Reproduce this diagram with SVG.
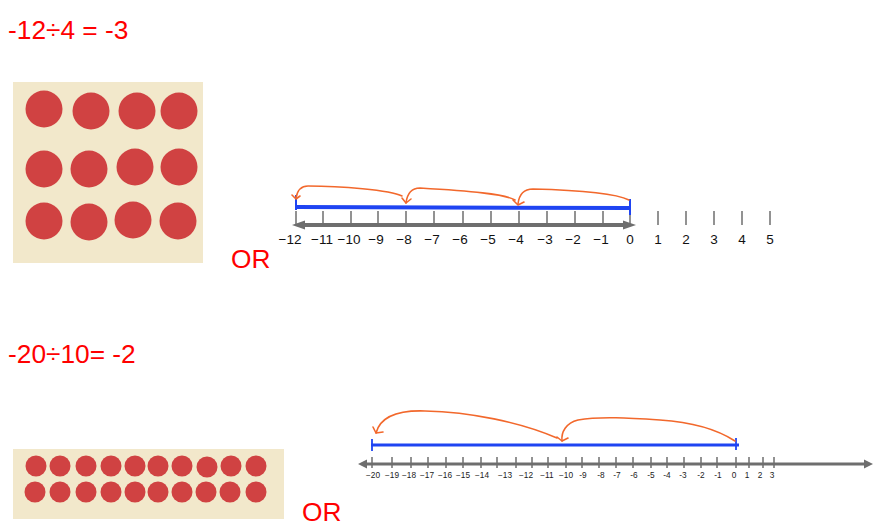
<svg xmlns="http://www.w3.org/2000/svg" width="877" height="528" viewBox="0 0 877 528">
<style>
.eq{font-family:"Liberation Sans",Arial,sans-serif;font-size:26.3px;fill:#ff0000}
.dot{fill:#d04242}
.bg{fill:#f2e8cb}
.axis{stroke:#6e6e6e;fill:none}
.tick{stroke:#6e6e6e;stroke-width:1.5}
.blue{stroke:#1f44f2;fill:none}
.jump{stroke:#f2682c;stroke-width:1.6;fill:none;stroke-linecap:round;stroke-linejoin:round}
.lt{font-family:"Liberation Sans",Arial,sans-serif;font-size:13.5px;fill:#111;text-anchor:middle}
.ls{font-family:"Liberation Sans",Arial,sans-serif;font-size:8.3px;fill:#222;text-anchor:middle}
.head{fill:#6e6e6e}
</style>
<rect width="877" height="528" fill="#ffffff"/>

<g id="eq1"><text class="eq" x="8" y="39">-12÷4 = -3</text></g>
<g id="eq2"><text class="eq" x="8" y="363">-20÷10= -2</text></g>
<g id="or1"><text class="eq" x="231" y="268">OR</text></g>
<g id="or2"><text class="eq" x="302" y="521">OR</text></g>

<g id="dots1">
<rect class="bg" x="13" y="82" width="190" height="181"/>
<circle class="dot" cx="44" cy="109" r="18.5"/>
<circle class="dot" cx="91" cy="111" r="18.5"/>
<circle class="dot" cx="137" cy="111" r="18.5"/>
<circle class="dot" cx="179" cy="111" r="18.5"/>
<circle class="dot" cx="44" cy="169" r="18.5"/>
<circle class="dot" cx="89" cy="169" r="18.5"/>
<circle class="dot" cx="135" cy="167" r="18.5"/>
<circle class="dot" cx="179" cy="167" r="18.5"/>
<circle class="dot" cx="44" cy="221" r="18.5"/>
<circle class="dot" cx="89" cy="222" r="18.5"/>
<circle class="dot" cx="133" cy="220" r="18.5"/>
<circle class="dot" cx="178" cy="221" r="18.5"/>
</g>

<g id="dots2">
<rect class="bg" x="13" y="449" width="271" height="70"/>
<g>
<circle class="dot" cx="36" cy="466" r="10.5"/>
<circle class="dot" cx="60" cy="466" r="10.5"/>
<circle class="dot" cx="86" cy="466" r="10.5"/>
<circle class="dot" cx="111" cy="466" r="10.5"/>
<circle class="dot" cx="135" cy="466" r="10.5"/>
<circle class="dot" cx="158" cy="466" r="10.5"/>
<circle class="dot" cx="182" cy="466" r="10.5"/>
<circle class="dot" cx="207" cy="467" r="10.5"/>
<circle class="dot" cx="231" cy="466" r="10.5"/>
<circle class="dot" cx="256" cy="466" r="10.5"/>
<circle class="dot" cx="35" cy="492" r="10.5"/>
<circle class="dot" cx="60" cy="492" r="10.5"/>
<circle class="dot" cx="86" cy="492" r="10.5"/>
<circle class="dot" cx="111" cy="492" r="10.5"/>
<circle class="dot" cx="135" cy="492" r="10.5"/>
<circle class="dot" cx="158" cy="492" r="10.5"/>
<circle class="dot" cx="182" cy="492" r="10.5"/>
<circle class="dot" cx="206" cy="492" r="10.5"/>
<circle class="dot" cx="230" cy="492" r="10.5"/>
<circle class="dot" cx="256" cy="492" r="10.5"/>
</g>
</g>

<g id="numberline1">
<line class="axis" x1="300" y1="225" x2="628" y2="225" stroke-width="4"/>
<polygon class="head" points="292,225 305,220.5 305,229.5"/>
<polygon class="head" points="636,225 623,220.5 623,229.5"/>
<g>
<line class="tick" x1="296" y1="211" x2="296" y2="225"/>
<line class="tick" x1="323" y1="211" x2="323" y2="225"/>
<line class="tick" x1="351" y1="211" x2="351" y2="225"/>
<line class="tick" x1="378" y1="211" x2="378" y2="225"/>
<line class="tick" x1="406" y1="211" x2="406" y2="225"/>
<line class="tick" x1="434" y1="211" x2="434" y2="225"/>
<line class="tick" x1="463" y1="211" x2="463" y2="225"/>
<line class="tick" x1="491" y1="211" x2="491" y2="225"/>
<line class="tick" x1="519" y1="211" x2="519" y2="225"/>
<line class="tick" x1="547" y1="211" x2="547" y2="225"/>
<line class="tick" x1="575" y1="211" x2="575" y2="225"/>
<line class="tick" x1="603" y1="211" x2="603" y2="225"/>
<line class="tick" x1="630" y1="211" x2="630" y2="225"/>
<line class="tick" x1="658" y1="211" x2="658" y2="225"/>
<line class="tick" x1="686" y1="211" x2="686" y2="225"/>
<line class="tick" x1="714" y1="211" x2="714" y2="225"/>
<line class="tick" x1="742" y1="211" x2="742" y2="225"/>
<line class="tick" x1="770" y1="211" x2="770" y2="225"/>
</g>
<g>
<text class="lt" x="290" y="244">−12</text>
<text class="lt" x="322" y="244">−11</text>
<text class="lt" x="349" y="244">−10</text>
<text class="lt" x="376" y="244">−9</text>
<text class="lt" x="404" y="244">−8</text>
<text class="lt" x="432" y="244">−7</text>
<text class="lt" x="460" y="244">−6</text>
<text class="lt" x="488" y="244">−5</text>
<text class="lt" x="516" y="244">−4</text>
<text class="lt" x="545" y="244">−3</text>
<text class="lt" x="573" y="244">−2</text>
<text class="lt" x="601" y="244">−1</text>
<text class="lt" x="630" y="244">0</text>
<text class="lt" x="658" y="244">1</text>
<text class="lt" x="686" y="244">2</text>
<text class="lt" x="714" y="244">3</text>
<text class="lt" x="742" y="244">4</text>
<text class="lt" x="770" y="244">5</text>
</g>
</g>

<g id="numberline2">
<line class="axis" x1="364" y1="464" x2="866" y2="464" stroke-width="3"/>
<polygon class="head" points="358,464 367,459.5 367,468.5"/>
<polygon class="head" points="873,464 864,459.5 864,468.5"/>
<g>
<line class="tick" x1="372" y1="457" x2="372" y2="468"/>
<line class="tick" x1="392" y1="457" x2="392" y2="468"/>
<line class="tick" x1="411" y1="457" x2="411" y2="468"/>
<line class="tick" x1="428" y1="457" x2="428" y2="468"/>
<line class="tick" x1="446" y1="457" x2="446" y2="468"/>
<line class="tick" x1="463" y1="457" x2="463" y2="468"/>
<line class="tick" x1="481" y1="457" x2="481" y2="468"/>
<line class="tick" x1="497" y1="457" x2="497" y2="468"/>
<line class="tick" x1="516" y1="457" x2="516" y2="468"/>
<line class="tick" x1="532" y1="457" x2="532" y2="468"/>
<line class="tick" x1="548" y1="457" x2="548" y2="468"/>
<line class="tick" x1="566" y1="457" x2="566" y2="468"/>
<line class="tick" x1="582" y1="457" x2="582" y2="468"/>
<line class="tick" x1="599" y1="457" x2="599" y2="468"/>
<line class="tick" x1="616" y1="457" x2="616" y2="468"/>
<line class="tick" x1="633" y1="457" x2="633" y2="468"/>
<line class="tick" x1="651" y1="457" x2="651" y2="468"/>
<line class="tick" x1="667" y1="457" x2="667" y2="468"/>
<line class="tick" x1="684" y1="457" x2="684" y2="468"/>
<line class="tick" x1="701" y1="457" x2="701" y2="468"/>
<line class="tick" x1="717" y1="457" x2="717" y2="468"/>
<line class="tick" x1="736" y1="457" x2="736" y2="468"/>
<line class="tick" x1="749" y1="457" x2="749" y2="468"/>
<line class="tick" x1="763" y1="457" x2="763" y2="468"/>
<line class="tick" x1="774" y1="457" x2="774" y2="468"/>
</g>
<g>
<text class="ls" x="373" y="478">−20</text>
<text class="ls" x="392" y="478">−19</text>
<text class="ls" x="409" y="478">−18</text>
<text class="ls" x="427" y="478">−17</text>
<text class="ls" x="445" y="478">−16</text>
<text class="ls" x="463" y="478">−15</text>
<text class="ls" x="482" y="478">−14</text>
<text class="ls" x="505" y="478">−13</text>
<text class="ls" x="526" y="478">−12</text>
<text class="ls" x="547" y="478">−11</text>
<text class="ls" x="566" y="478">−10</text>
<text class="ls" x="583" y="478">-9</text>
<text class="ls" x="601" y="478">-8</text>
<text class="ls" x="617" y="478">-7</text>
<text class="ls" x="634" y="478">-6</text>
<text class="ls" x="651" y="478">-5</text>
<text class="ls" x="667" y="478">-4</text>
<text class="ls" x="683" y="478">-3</text>
<text class="ls" x="701" y="478">-2</text>
<text class="ls" x="718" y="478">-1</text>
<text class="ls" x="734" y="478">0</text>
<text class="ls" x="747" y="478">1</text>
<text class="ls" x="760" y="478">2</text>
<text class="ls" x="772" y="478">3</text>
</g>
</g>

<g id="connectors">
<line class="blue" x1="296" y1="207" x2="630" y2="208" stroke-width="4"/>
<line class="blue" x1="296" y1="195" x2="296" y2="210" stroke-width="2"/>
<line class="blue" x1="630" y1="199" x2="630" y2="215" stroke-width="2"/>
<path class="jump" d="M629,200 C 615,193 575,190 533,189 C 524,189 519,195 518,204"/>
<polyline class="jump" points="513,200 518,205 524,202"/>
<path class="jump" d="M515,200 C 505,194 470,191 420,188 C 410,188 407,195 406,203"/>
<polyline class="jump" points="402,198 406,203 411,199"/>
<path class="jump" d="M402,196 C 390,190 340,186 308,186 C 300,186 297,192 296,198"/>
<polyline class="jump" points="292,195 296,199 300,196"/>
<line class="blue" x1="371" y1="445" x2="739" y2="445" stroke-width="3"/>
<line class="blue" x1="372" y1="439" x2="372" y2="451" stroke-width="1.8"/>
<line class="blue" x1="736" y1="438" x2="736" y2="450" stroke-width="1.8"/>
<path class="jump" d="M735,441 C 715,428 690,422 660,420 C 630,418 600,416 578,420 C 566,423 561,432 562,441"/>
<polyline class="jump" points="557,437 562,441 568,438"/>
<path class="jump" d="M557,438 C 520,422 470,412 425,411 C 395,410 380,418 376,433"/>
<polyline class="jump" points="373,427 376,433 383,432"/>
</g>
</svg>
